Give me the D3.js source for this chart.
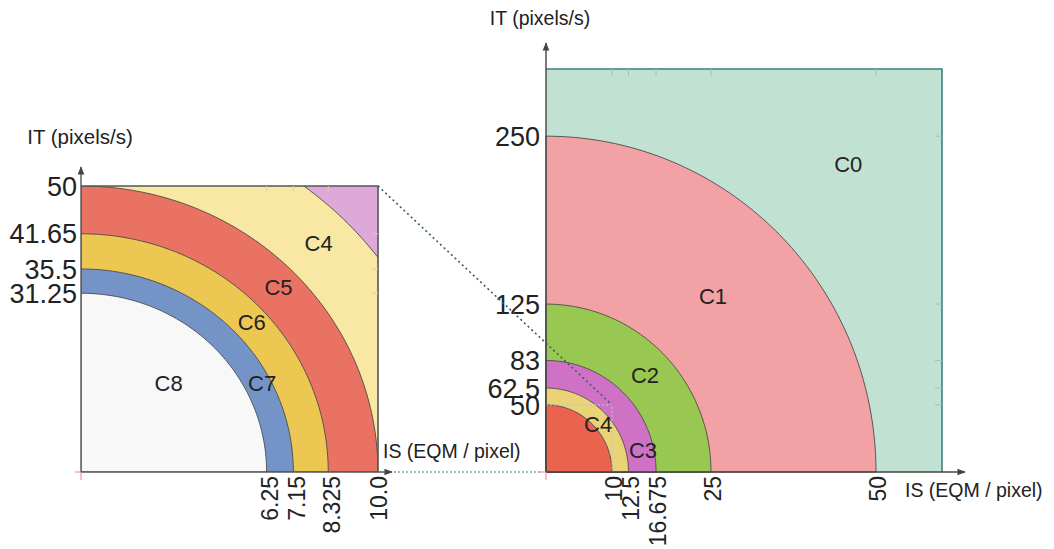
<html><head>
<meta charset="utf-8">
<style>
  body { margin: 0; background: #fff; }
  svg text { font-family: "Liberation Sans", Arial, sans-serif; fill: #222; }
</style>
<script src="https://d3js.org/d3.v7.min.js"></script>
</head>
<body>
<svg id="chart" width="1054" height="549"></svg>
<script>
// tick values
const leftIS = [6.25, 7.15, 8.325, 10.0];
const leftIT = [31.25, 35.5, 41.65, 50];
const rightIS = [10, 12.5, 16.675, 25, 50];
const rightIT = [50, 62.5, 83, 125, 250];

// quarter-ellipse boundaries, outermost first (IS radius, IT radius)
const leftBandIS = [12.5, 10, 8.325, 7.15, 6.25];
const leftBandIT = [62.5, 50, 41.65, 35.5, 31.25];
const leftBandColor = ["#f8e8a4", "#ea7262", "#ecc852", "#7494c8", "#f8f8f8"];
const rightBandIS = [50, 25, 16.675, 12.5, 10];
const rightBandIT = [250, 125, 83, 62.5, 50];
const rightBandColor = ["#f2a2a4", "#98c852", "#cf72c6", "#ead276", "#e9634e"];

// class labels
const leftLabels = ["C4", "C5", "C6", "C7", "C8"];
const leftLabelIS = [8.0, 6.65, 5.75, 6.1, 2.95];
const leftLabelIT = [40, 32.3, 26.2, 15.6, 15.6];
const rightLabels = ["C0", "C1", "C2", "C3", "C4"];
const rightLabelIS = [45.8, 25.3, 15.0, 14.7, 7.9];
const rightLabelIT = [229, 131, 72, 16.4, 35.8];

const svg = d3.select("#chart");

const xL = d3.scaleLinear().domain([0, 10]).range([81, 378]);
const yL = d3.scaleLinear().domain([0, 50]).range([472, 186]);
const xR = d3.scaleLinear().domain([0, 60]).range([546, 942]);
const yR = d3.scaleLinear().domain([0, 300]).range([472, 69]);

const angles = d3.range(0, 91, 1).map(d => d * Math.PI / 180);

function quarter(a, b, x, y) {
  const pts = [[0, 0]].concat(angles.map(t => [a * Math.cos(t), b * Math.sin(t)]));
  return d3.line().x(d => x(d[0])).y(d => y(d[1]))(pts) + "Z";
}

svg.append("defs").append("clipPath").attr("id", "clipL")
  .append("rect").attr("x", xL(0)).attr("y", yL(50))
  .attr("width", xL(10) - xL(0)).attr("height", yL(0) - yL(50));

svg.append("marker").attr("id", "arrow").attr("viewBox", "0 0 10 10")
  .attr("refX", 9).attr("refY", 5).attr("markerWidth", 6).attr("markerHeight", 6)
  .attr("orient", "auto")
  .append("path").attr("d", "M0,1 L10,5 L0,9 Z").attr("fill", "#444");

function panel(x, y, isMax, itMax, bgColor, bandIS, bandIT, bandColor, clip, borderColor) {
  const g = svg.append("g");
  const inner = g.append("g");
  if (clip) inner.attr("clip-path", "url(#" + clip + ")");
  inner.append("rect")
    .attr("x", x(0)).attr("y", y(itMax))
    .attr("width", x(isMax) - x(0)).attr("height", y(0) - y(itMax))
    .attr("fill", bgColor);
  bandIS.forEach((a, i) => {
    inner.append("path")
      .attr("d", quarter(a, bandIT[i], x, y))
      .attr("fill", bandColor[i])
      .attr("stroke", "#4a4a4a").attr("stroke-width", 0.9);
  });
  // frame (top + right)
  g.append("path")
    .attr("d", `M${x(0)},${y(itMax)} H${x(isMax)} V${y(0)}`)
    .attr("fill", "none").attr("stroke", borderColor).attr("stroke-width", 1.6);
  return g;
}

// ---- left panel ----
const gL = panel(xL, yL, 10, 50, "#dea8d8", leftBandIS, leftBandIT, leftBandColor, "clipL", "#555");

// faint inner ticks
gL.selectAll(".tt").data(leftIS.slice(0, 3)).join("line")
  .attr("x1", d => xL(d)).attr("x2", d => xL(d))
  .attr("y1", yL(50)).attr("y2", yL(50) + 6)
  .attr("stroke", "#d8d0a0").attr("stroke-width", 1);
gL.selectAll(".rt").data(leftIT.slice(0, 3)).join("line")
  .attr("x1", xL(10) - 6).attr("x2", xL(10))
  .attr("y1", d => yL(d)).attr("y2", d => yL(d))
  .attr("stroke", "#d8d0a0").attr("stroke-width", 1);

// axes
svg.append("line").attr("x1", xL(0)).attr("y1", yL(0)).attr("x2", xL(0)).attr("y2", 167)
  .attr("stroke", "#555").attr("stroke-width", 1.4).attr("marker-end", "url(#arrow)");
svg.append("line").attr("x1", xL(0)).attr("y1", yL(0)).attr("x2", 392).attr("y2", yL(0))
  .attr("stroke", "#555").attr("stroke-width", 1.4).attr("marker-end", "url(#arrow)");
svg.append("path").attr("d", `M${xL(0) - 6},${yL(0)} H${xL(0)} V${yL(0) + 8}`)
  .attr("fill", "none").attr("stroke", "#f08080").attr("stroke-width", 1);

svg.selectAll(".lyt").data(leftIT).join("text")
  .attr("x", 77).attr("y", d => yL(d)).attr("dy", "0.36em")
  .attr("text-anchor", "end").attr("font-size", 27)
  .text(d => d);
svg.selectAll(".lxt").data(leftIS).join("text")
  .attr("transform", d => `translate(${xL(d) + (d === 10 ? 1 : 3)},${yL(0) + 4}) rotate(-90)`)
  .attr("dy", "0.36em")
  .attr("text-anchor", "end").attr("font-size", 23)
  .text(d => d === 10 ? "10.0" : d);

svg.selectAll(".ll").data(leftLabels).join("text")
  .attr("x", (d, i) => xL(leftLabelIS[i])).attr("y", (d, i) => yL(leftLabelIT[i]))
  .attr("dy", "0.36em").attr("text-anchor", "middle").attr("font-size", 22)
  .text(d => d);

svg.append("text").attr("x", 80).attr("y", 144).attr("text-anchor", "middle")
  .attr("font-size", 20.5).text("IT (pixels/s)");
svg.append("text").attr("x", 383).attr("y", 458)
  .attr("font-size", 19.5).text("IS (EQM / pixel)");

// ---- right panel ----
const gR = panel(xR, yR, 60, 300, "#c1e2d3", rightBandIS, rightBandIT, rightBandColor, null, "#3f7f80");

// dotted zoom box (0..10 x 0..50)
gR.append("path")
  .attr("d", `M${xR(0)},${yR(50)} H${xR(10)} V${yR(0)}`)
  .attr("fill", "none").attr("stroke", "#b8c8c8").attr("stroke-width", 1.2)
  .attr("stroke-dasharray", "2,2");

gR.selectAll(".tt").data(rightIS).join("line")
  .attr("x1", d => xR(d)).attr("x2", d => xR(d))
  .attr("y1", yR(300)).attr("y2", yR(300) + 7)
  .attr("stroke", "#8ccac0").attr("stroke-width", 1);
gR.selectAll(".rt").data(rightIT).join("line")
  .attr("x1", xR(60) - 7).attr("x2", xR(60))
  .attr("y1", d => yR(d)).attr("y2", d => yR(d))
  .attr("stroke", "#8ccac0").attr("stroke-width", 1);

svg.append("line").attr("x1", xR(0)).attr("y1", yR(0)).attr("x2", xR(0)).attr("y2", 43)
  .attr("stroke", "#444").attr("stroke-width", 1.4).attr("marker-end", "url(#arrow)");
svg.append("line").attr("x1", xR(0)).attr("y1", yR(0)).attr("x2", 965).attr("y2", yR(0))
  .attr("stroke", "#444").attr("stroke-width", 1.4).attr("marker-end", "url(#arrow)");
svg.append("path").attr("d", `M${xR(0) - 6},${yR(0)} H${xR(0)} V${yR(0) + 8}`)
  .attr("fill", "none").attr("stroke", "#f08080").attr("stroke-width", 1);

svg.selectAll(".ryt").data(rightIT).join("text")
  .attr("x", 540).attr("y", d => yR(d)).attr("dy", "0.36em")
  .attr("text-anchor", "end").attr("font-size", 27)
  .text(d => d);
svg.selectAll(".rxt").data(rightIS).join("text")
  .attr("transform", d => `translate(${xR(d) + 2},${yR(0) + 4}) rotate(-90)`)
  .attr("dy", "0.36em")
  .attr("text-anchor", "end").attr("font-size", 23)
  .text(d => d);

svg.selectAll(".rl").data(rightLabels).join("text")
  .attr("x", (d, i) => xR(rightLabelIS[i])).attr("y", (d, i) => yR(rightLabelIT[i]))
  .attr("dy", "0.36em").attr("text-anchor", "middle").attr("font-size", 22)
  .text(d => d);

svg.append("text").attr("x", 540).attr("y", 25).attr("text-anchor", "middle")
  .attr("font-size", 19.5).text("IT (pixels/s)");
svg.append("text").attr("x", 905).attr("y", 497)
  .attr("font-size", 19.5).text("IS (EQM / pixel)");

// connector lines between the panels
svg.append("line")
  .attr("x1", xL(10)).attr("y1", yL(50)).attr("x2", xR(10)).attr("y2", yR(50))
  .attr("stroke", "#3d5a6a").attr("stroke-width", 1.6).attr("stroke-dasharray", "2,3");
svg.append("line")
  .attr("x1", 394).attr("y1", yL(0)).attr("x2", xR(0) - 4).attr("y2", yR(0))
  .attr("stroke", "#7aa0b8").attr("stroke-width", 1.4).attr("stroke-dasharray", "2,2");
</script>
</body></html>
